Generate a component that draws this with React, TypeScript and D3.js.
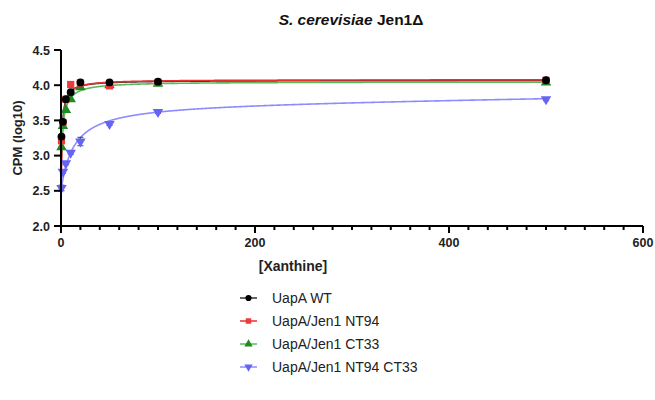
import React from "react";
import * as d3 from "d3";

const xValues = [0.5, 2, 5, 10, 20, 50, 100, 500];
const seriesNames = ["UapA WT", "UapA/Jen1 NT94", "UapA/Jen1 CT33", "UapA/Jen1 NT94 CT33"];
const wtValues = [3.27, 3.48, 3.8, 3.9, 4.04, 4.04, 4.05, 4.07];
const nt94Values = [3.21, 3.47, 3.8, 4.01, 4.03, 3.99, 4.04, 4.07];
const ct33Values = [3.12, 3.42, 3.65, 3.8, 3.97, 4.0, 4.02, 4.04];
const nt94ct33Values = [2.54, 2.77, 2.89, 3.04, 3.2, 3.45, 3.62, 3.8];
const nt94ct33Errors = [0.04, 0.02, 0.02, 0.02, 0.06, 0.02, 0.02, 0.02];
// fit parameters (one site – total): background, Bmax, Kd, NS
const fitBackground = [2.6, 2.15, 2.9, 2.5];
const fitBmax = [1.47, 1.93, 1.15, 1.24];
const fitKd = [1.2, 1.0, 2.5, 13.0];
const fitNS = [0, 0, 0, 0.0002];
const xTicks = [0, 200, 400, 600];
const yTicks = [2.0, 2.5, 3.0, 3.5, 4.0, 4.5];

const colors = ["#000000", "#f03a3a", "#1f8a1f", "#6464f5"];
const lineColors = ["#333333", "#e83030", "#5fb85f", "#8c8cff"];
const symbols = [d3.symbolCircle, d3.symbolSquare, d3.symbolTriangle, d3.symbolTriangle];

export default function App() {
  const W = 655, H = 400;
  const x = d3.scaleLinear().domain([0, 600]).range([61, 643]);
  const y = d3.scaleLinear().domain([2.0, 4.5]).range([226, 50]);
  const font = "Arial, 'Liberation Sans', sans-serif";
  const allValues = [wtValues, nt94Values, ct33Values, nt94ct33Values];
  const errs = [null, null, null, nt94ct33Errors];

  const curveXs = d3.range(0, 500.01, 0.25);
  const line = d3.line<number[]>().x(d => x(d[0])).y(d => y(d[1]));
  const minorTicks = d3.range(0, 601, 20);

  const sym = (i: number, size: number) => d3.symbol().type(symbols[i]).size(size)() as string;
  const symSize = [48, 52, 48, 48];

  return (
    <svg width={W} height={H} style={{ position: "absolute", left: 0, top: 0, background: "#fff" }}>
      <rect width={W} height={H} fill="#fff" />
      {/* title */}
      <text x={351} y={25} textAnchor="middle" fontFamily={font} fontWeight="bold" fontSize={15.5} fill="#111">
        <tspan fontStyle="italic">S. cerevisiae</tspan>
        <tspan> Jen1Δ</tspan>
      </text>
      {/* curves */}
      {allValues.map((_, i) => {
        const pts = curveXs.map(xv => [xv, fitBackground[i] + fitBmax[i] * xv / (fitKd[i] + xv) + fitNS[i] * xv]);
        return <path key={"c" + i} d={line(pts) as string} fill="none" stroke={lineColors[i]} strokeWidth={1.6} />;
      })}
      {/* error bars */}
      {allValues.map((vals, i) =>
        errs[i] ? vals.map((v, j) => {
          const e = (errs[i] as number[])[j];
          const cx = x(xValues[j]);
          return (
            <g key={"e" + i + "-" + j} stroke="#444" strokeWidth={1}>
              <line x1={cx} x2={cx} y1={y(v - e)} y2={y(v + e)} />
              <line x1={cx - 3} x2={cx + 3} y1={y(v - e)} y2={y(v - e)} />
              <line x1={cx - 3} x2={cx + 3} y1={y(v + e)} y2={y(v + e)} />
            </g>
          );
        }) : null
      )}
      {/* points */}
      {[3, 2, 1, 0].map(i =>
        allValues[i].map((v, j) => (
          <path key={"p" + i + "-" + j} d={sym(i, symSize[i])}
            transform={`translate(${x(xValues[j])},${y(v)})${i === 3 ? " rotate(180)" : ""}`}
            fill={colors[i]} />
        ))
      )}
      {/* axes */}
      <g stroke="#000" strokeWidth={2} fill="none">
        <line x1={61} x2={61} y1={y(4.5)} y2={y(2.0)} />
        <line x1={60} x2={x(600)} y1={226} y2={226} />
        {yTicks.map(t => <line key={"yt" + t} x1={54} x2={61} y1={y(t)} y2={y(t)} />)}
        {minorTicks.map(t => (
          <line key={"xt" + t} x1={x(t)} x2={x(t)} y1={226} y2={xTicks.includes(t) ? 233 : 230} />
        ))}
      </g>
      {yTicks.map(t => (
        <text key={"yl" + t} x={50} y={y(t) + 4.5} textAnchor="end" fontFamily={font} fontWeight="bold" fontSize={12.5} fill="#222">
          {t.toFixed(1)}
        </text>
      ))}
      {xTicks.map(t => (
        <text key={"xl" + t} x={x(t)} y={247} textAnchor="middle" fontFamily={font} fontWeight="bold" fontSize={12.5} fill="#222">
          {t}
        </text>
      ))}
      <text x={293} y={271} textAnchor="middle" fontFamily={font} fontWeight="bold" fontSize={14} fill="#222">[Xanthine]</text>
      <text transform="translate(22,138) rotate(-90)" textAnchor="middle" fontFamily={font} fontWeight="bold" fontSize={13} fill="#222">CPM (log10)</text>
      {/* legend */}
      {seriesNames.map((n, i) => {
        const ly = 298 + i * 23;
        return (
          <g key={"lg" + i}>
            <line x1={240} x2={257} y1={ly} y2={ly} stroke={lineColors[i]} strokeWidth={1.5} />
            <path d={sym(i, 30)} transform={`translate(248.5,${ly})${i === 3 ? " rotate(180)" : ""}`} fill={colors[i]} />
            <text x={272} y={ly + 5} fontFamily={font} fontSize={14} fill="#222">{n}</text>
          </g>
        );
      })}
    </svg>
  );
}
